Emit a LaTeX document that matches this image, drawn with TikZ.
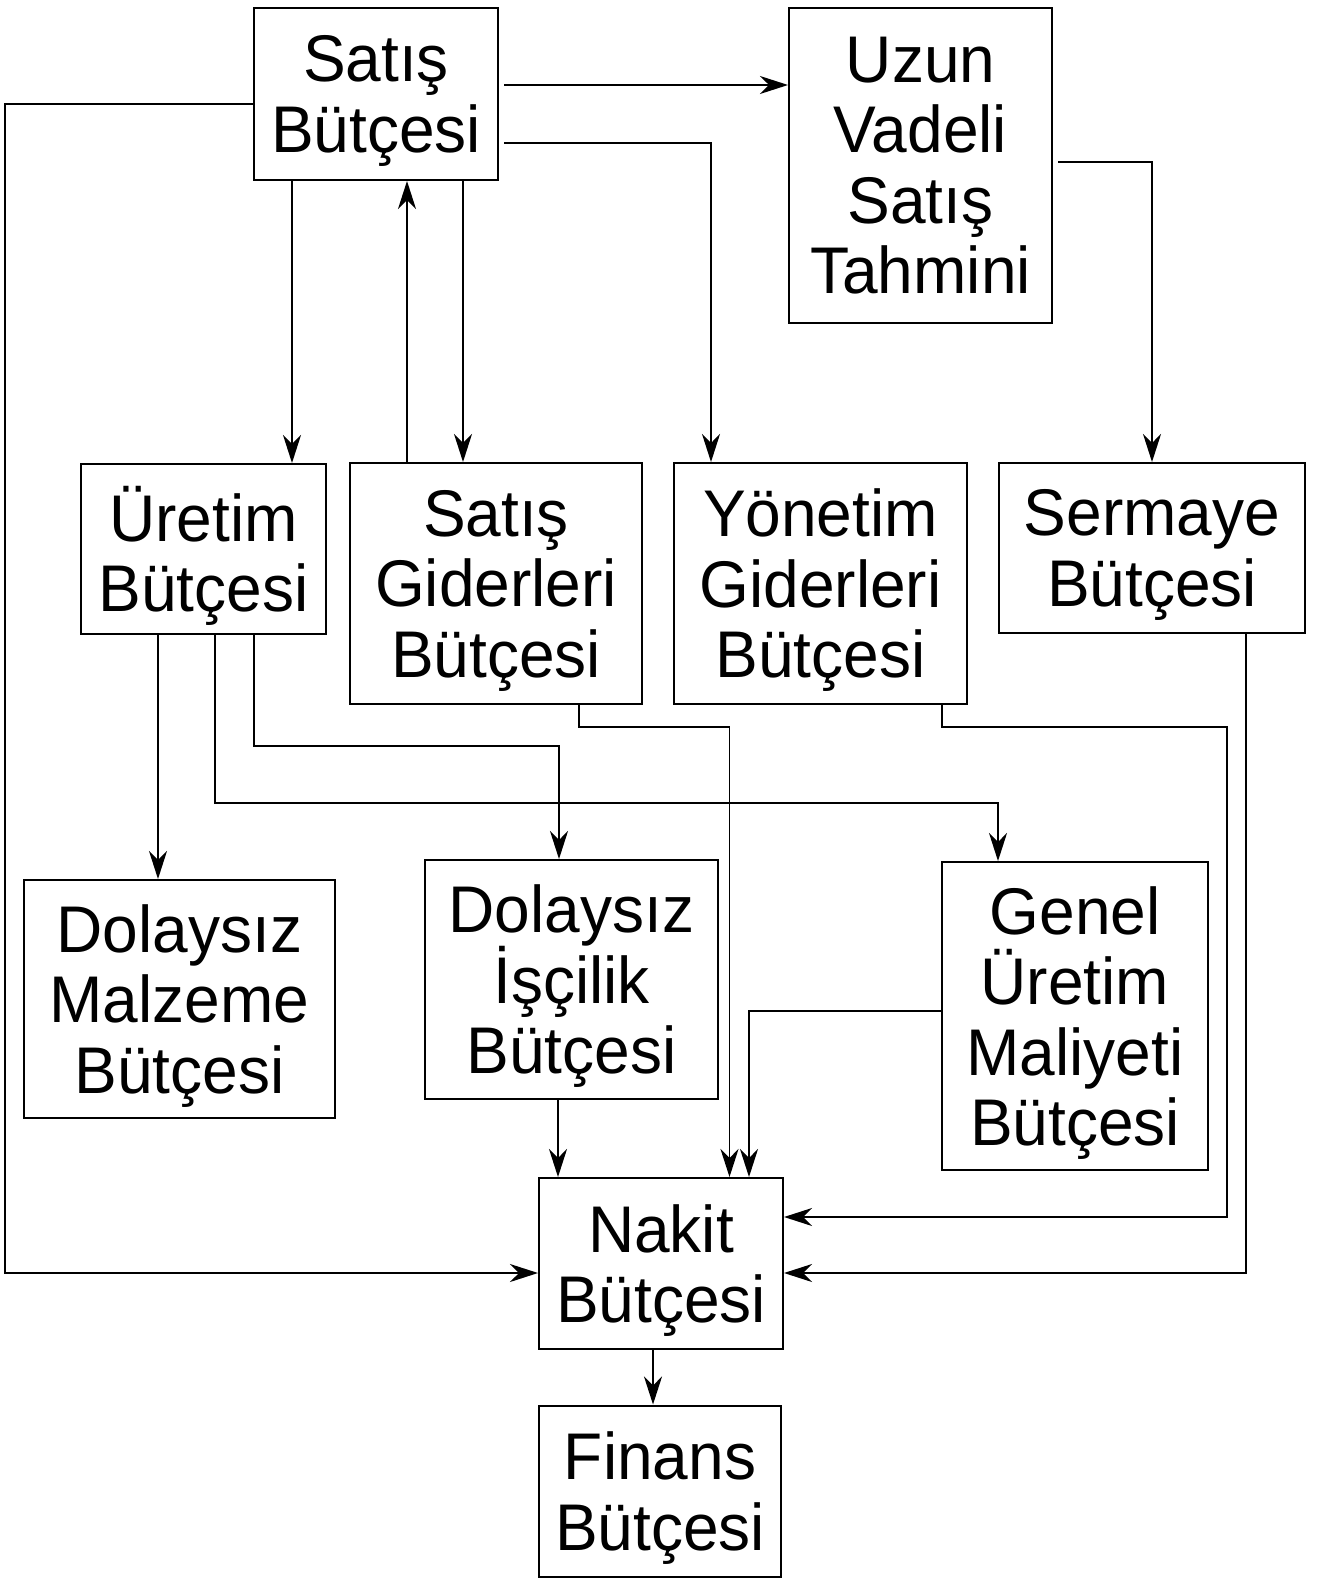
\documentclass[tikz,border=0pt]{standalone}
\usepackage{fontspec}
\setmainfont{Liberation Sans}[FakeStretch=0.97]
\usetikzlibrary{arrows.meta}
\begin{document}
\lineskiplimit=-1000pt
\begin{tikzpicture}[x=1pt,y=-1pt,
  box/.style={draw, line width=2pt, inner sep=0pt, align=center,
    font=\fontsize{66}{70.5}\selectfont},
  arr/.style={-{Stealth[length=28pt,width=18pt,inset=9pt]}, line width=1.9pt},
  gap/.style={shorten <=5pt}]
\useasboundingbox (0,0) rectangle (1317,1578);
\fill[white] (0,0) rectangle (1317,1578);
% nodes
\node[box, minimum width=244pt, minimum height=172pt] (sat) at (376,94) {Satış\\\smash{Bütçesi}};
\node[box, minimum width=263pt, minimum height=315pt] (uzun) at (920.5,165.5) {Uzun\\Vadeli\\Satış\\Tahmini};
\node[box, minimum width=245pt, minimum height=170pt] (uret) at (203.5,549) {Üretim\\\smash{Bütçesi}};
\node[box, minimum width=292pt, minimum height=241pt] (sg) at (496,583.5) {Satış\\Giderleri\\\smash{Bütçesi}};
\node[box, minimum width=293pt, minimum height=241pt] (yon) at (820.5,583.5) {Yönetim\\Giderleri\\\smash{Bütçesi}};
\node[box, minimum width=306pt, minimum height=170pt] (ser) at (1152,548) {Sermaye\\\smash{Bütçesi}};
\node[box, minimum width=311pt, minimum height=238pt] (dm) at (179.5,999) {Dolaysız\\Malzeme\\\smash{Bütçesi}};
\node[box, minimum width=293pt, minimum height=239pt] (di) at (571.5,979.5) {Dolaysız\\İşçilik\\\smash{Bütçesi}};
\node[box, minimum width=266pt, minimum height=308pt] (gen) at (1075,1016) {Genel\\Üretim\\Maliyeti\\\smash{Bütçesi}};
\node[box, minimum width=244pt, minimum height=171pt] (nak) at (661,1263.5) {Nakit\\\smash{Bütçesi}};
\node[box, minimum width=242pt, minimum height=171pt] (fin) at (660,1491) {Finans\\\smash{Bütçesi}};
% helper coordinates
\coordinate (ya) at (0,85);
\coordinate (yb) at (711,143);
\coordinate (lc1) at (5,104);
\coordinate (lc2) at (5,1273);
\coordinate (xd) at (292,0);
\coordinate (xe) at (407,0);
\coordinate (xf) at (463,0);
\coordinate (yg) at (0,162);
\coordinate (xh) at (158,0);
\coordinate (ui1) at (215,803);
\coordinate (ui2) at (998,803);
\coordinate (uj1) at (254,746);
\coordinate (uj2) at (559,746);
\coordinate (sk1) at (579,727);
\coordinate (sk2) at (729.5,727);
\coordinate (yl1) at (942,727);
\coordinate (yl2) at (1227,727);
\coordinate (yl3) at (1227,1217);
\coordinate (sm1) at (1246,1273);
\coordinate (xn) at (558,0);
\coordinate (go1) at (749,1011);
\coordinate (xp) at (653,0);
% connectors
\draw[arr, gap] (sat.east |- ya) -- (uzun.west |- ya);
\draw[arr, gap] (sat.east |- yb) -- (yb) -- (yb |- yon.north);
\draw[arr] (sat.west |- lc1) -- (lc1) -- (lc2) -- (nak.west |- lc2);
\draw[arr] (xd |- sat.south) -- (xd |- uret.north);
\draw[arr] (xe |- sg.north) -- (xe |- sat.south);
\draw[arr] (xf |- sat.south) -- (xf |- sg.north);
\draw[arr, gap] (uzun.east |- yg) -| (ser.north);
\draw[arr] (xh |- uret.south) -- (xh |- dm.north);
\draw[arr] (ui1 |- uret.south) -- (ui1) -- (ui2) -- (ui2 |- gen.north);
\draw[arr] (uj1 |- uret.south) -- (uj1) -- (uj2) -- (uj2 |- di.north);
\draw[arr] (sk1 |- sg.south) -- (sk1) -- (sk2) -- (sk2 |- nak.north);
\draw[arr] (yl1 |- yon.south) -- (yl1) -- (yl2) -- (yl3) -- (nak.east |- yl3);
\draw[arr] (sm1 |- ser.south) -- (sm1) -- (nak.east |- sm1);
\draw[arr] (xn |- di.south) -- (xn |- nak.north);
\draw[arr] (gen.west |- go1) -- (go1) -- (go1 |- nak.north);
\draw[arr] (xp |- nak.south) -- (xp |- fin.north);
\end{tikzpicture}
\end{document}
